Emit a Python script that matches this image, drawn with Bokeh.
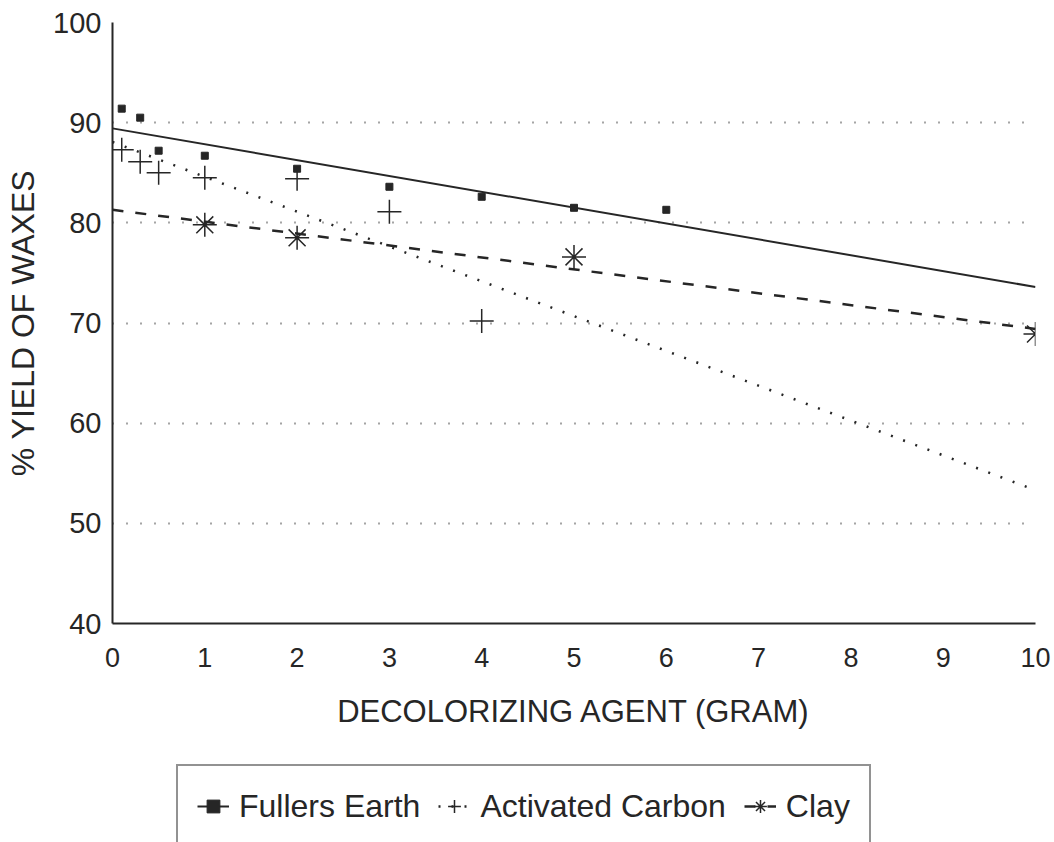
import numpy as np
from bokeh.plotting import figure
from bokeh.layouts import column
from bokeh.models import Range1d, FixedTicker, Legend, LegendItem
from bokeh.embed import file_html
from bokeh.resources import INLINE

# Yield of waxes (%) against amount of decolorizing agent (g)
agent_fullers = [0.1, 0.3, 0.5, 1, 2, 3, 4, 5, 6]
yield_fullers = [91.4, 90.5, 87.2, 86.7, 85.4, 83.6, 82.6, 81.5, 81.3]

agent_carbon = [0.1, 0.3, 0.5, 1, 2, 3, 4]
yield_carbon = [87.3, 86.1, 85.0, 84.5, 84.4, 81.1, 70.2]

agent_clay = [1, 2, 5, 10]
yield_clay = [79.8, 78.5, 76.6, 68.9]

series_names = ["Fullers Earth", "Activated Carbon", "Clay"]

x_ticks = [0, 1, 2, 3, 4, 5, 6, 7, 8, 9, 10]
y_ticks = [40, 50, 60, 70, 80, 90, 100]

INK = "#262626"
FONT = "Liberation Sans"

p = figure(width=1054, height=752, output_backend="svg", toolbar_location=None,
           x_range=Range1d(0, 10), y_range=Range1d(40, 100),
           min_border_left=112, min_border_right=19,
           min_border_top=22, min_border_bottom=129)
p.outline_line_color = None
p.background_fill_color = "white"
p.border_fill_color = "white"
p.xgrid.visible = False

p.ygrid.ticker = FixedTicker(ticks=y_ticks)
p.ygrid.grid_line_color = "#4a4a4a"
p.ygrid.grid_line_width = 2
p.ygrid.grid_line_dash = "1 13"

for ax in (p.xaxis[0], p.yaxis[0]):
    ax.axis_line_color = INK
    ax.axis_line_width = 2
    ax.major_tick_in = 0
    ax.major_tick_out = 0
    ax.minor_tick_in = 0
    ax.minor_tick_out = 0
    ax.major_label_text_font = FONT
    ax.major_label_text_color = INK
    ax.axis_label_text_font = FONT
    ax.axis_label_text_color = INK
    ax.axis_label_text_font_style = "normal"

p.xaxis.ticker = FixedTicker(ticks=x_ticks)
p.xaxis.major_label_text_font_size = "27px"
p.xaxis.major_label_standoff = 24
p.xaxis.axis_label = "DECOLORIZING AGENT (GRAM)"
p.xaxis.axis_label_text_font_size = "31px"
p.xaxis.axis_label_standoff = 24

p.yaxis.ticker = FixedTicker(ticks=y_ticks)
p.yaxis.major_label_text_font_size = "29px"
p.yaxis.major_label_standoff = 11
p.yaxis.axis_label = "% YIELD OF WAXES"
p.yaxis.axis_label_text_font_size = "32px"
p.yaxis.axis_label_standoff = 9

# least-squares trend lines over the full axis span
xs_fit = np.array([0.0, 10.0])
def trend(xv, yv):
    k, b = np.polyfit(xv, yv, 1)
    return k * xs_fit + b

line_styles = [dict(line_color=INK, line_width=2),
               dict(line_color=INK, line_width=2.5, line_dash="2 11"),
               dict(line_color=INK, line_width=2.5, line_dash="11 12")]
marker_styles = [dict(marker="square", size=7, fill_color=INK, line_color=INK),
                 dict(marker="cross", size=24, line_color=INK, line_width=1.5),
                 dict(marker="asterisk", size=24, line_color=INK, line_width=1.5)]

series = [(agent_fullers, yield_fullers),
          (agent_carbon, yield_carbon),
          (agent_clay, yield_clay)]

for (xv, yv), ls, ms in zip(series, line_styles, marker_styles):
    p.line(xs_fit, trend(xv, yv), **ls)
    p.scatter(xv, yv, **ms)

# key strip below the chart; its renderers are hidden and only lend
# their styles to the legend entries
k = figure(width=1054, height=90, output_backend="svg", toolbar_location=None,
           x_range=Range1d(0, 10), y_range=Range1d(40, 100),
           x_axis_type=None, y_axis_type=None, min_border=0)
k.outline_line_color = None
k.grid.visible = False
k.background_fill_color = "white"
k.border_fill_color = "white"

items = []
for name, (xv, yv), ls, ms in zip(series_names, series, line_styles, marker_styles):
    r_line = k.line(xs_fit, trend(xv, yv), visible=False, **ls)
    r_mark = k.scatter(xv, yv, visible=False, **ms)
    items.append(LegendItem(label=name, renderers=[r_line, r_mark]))

legend = Legend(items=items, orientation="horizontal", location=(64, -6))
legend.click_policy = "none"
legend.label_text_font = FONT
legend.label_text_font_size = "32px"
legend.label_text_color = INK
legend.label_standoff = 10
legend.glyph_width = 32
legend.glyph_height = 42
legend.label_height = 42
legend.spacing = 18
legend.padding = 19
legend.margin = 0
legend.border_line_color = INK
legend.border_line_width = 2
legend.background_fill_alpha = 1
k.add_layout(legend, "center")

open("out.html", "w").write(file_html(column(p, k, spacing=0), INLINE))
